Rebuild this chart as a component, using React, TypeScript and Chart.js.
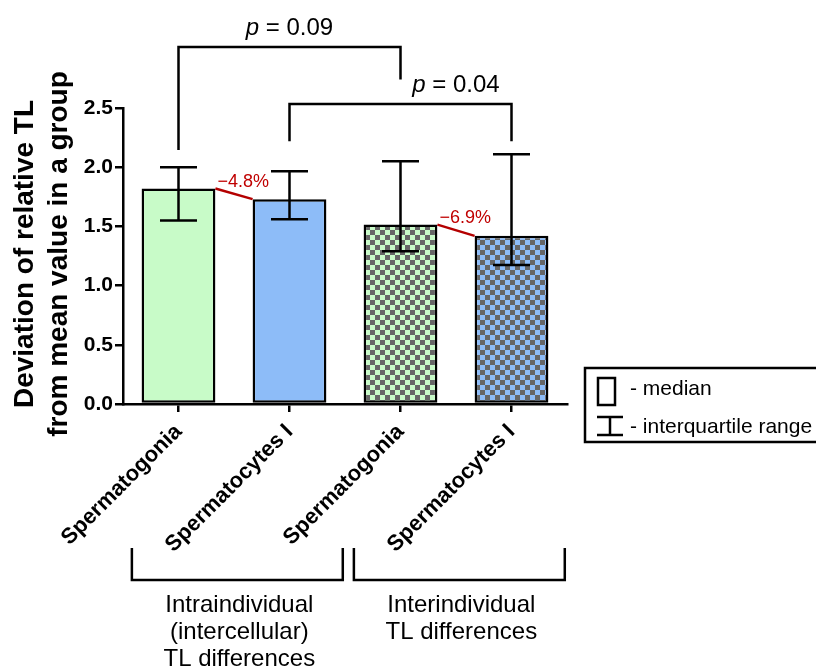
import React, { useEffect, useRef } from "react";
import { Chart, registerables } from "chart.js";

Chart.register(...registerables);

// ---------- data ----------
const categories = ["Spermatogonia", "Spermatocytes I", "Spermatogonia", "Spermatocytes I"];
const medians = [1.82, 1.73, 1.515, 1.42];
const q1 = [1.55, 1.56, 1.29, 1.175];
const q3 = [2.0, 1.965, 2.05, 2.11];
const yTicks = [0, 0.5, 1.0, 1.5, 2.0, 2.5];

const diffFrom = [0, 2];
const diffTo = [1, 3];
const diffLabels = ["\u22124.8%", "\u22126.9%"];

const pFrom = [0, 1];
const pTo = [2, 3];
const pLeftEnd = [2.145, 2.22];
const pRightEnd = [2.74, 2.22];
const pTop = [3.015, 2.534];
const pValues = ["0.09", "0.04"];
const pLabelAt = [1, 2.5];

const groupFrom = [0, 2];
const groupTo = [1, 3];
const groupLabels = [
  ["Intraindividual", "(intercellular)", "TL differences"],
  ["Interindividual", "TL differences"],
];

const yTitle = ["Deviation of relative TL", "from mean value in a group"];
const legendItems = ["- median", "- interquartile range"];

// ---------- styles ----------
const FONT = "'Liberation Sans', Arial, Helvetica, sans-serif";
const GREEN = "#c8fbc8";
const BLUE = "#8dbcf8";
const GRAY = "#666666";
const RED = "#b40000";
const LW = 2.5;

function checker(light: string): CanvasPattern | string {
  const c = document.createElement("canvas");
  const s = 5;
  c.width = s * 2;
  c.height = s * 2;
  const g = c.getContext("2d");
  if (!g) return light;
  g.fillStyle = light;
  g.fillRect(0, 0, s * 2, s * 2);
  g.fillStyle = GRAY;
  g.fillRect(0, 0, s, s);
  g.fillRect(s, s, s, s);
  const p = g.createPattern(c, "repeat");
  return p || light;
}

const overlay = {
  id: "overlay",
  afterDraw(chart: any) {
    const ctx: CanvasRenderingContext2D = chart.ctx;
    const x = chart.scales.x;
    const y = chart.scales.y;
    const meta = chart.getDatasetMeta(0);
    const area = chart.chartArea;
    ctx.save();
    ctx.strokeStyle = "#000";
    ctx.fillStyle = "#000";
    ctx.lineWidth = LW;
    ctx.lineCap = "butt";

    // error bars (interquartile range)
    const cap = 18.5;
    for (let i = 0; i < medians.length; i++) {
      const bx = meta.data[i].x;
      const yTop = y.getPixelForValue(q3[i]);
      const yBot = y.getPixelForValue(q1[i]);
      ctx.beginPath();
      ctx.moveTo(bx, yTop);
      ctx.lineTo(bx, yBot);
      ctx.moveTo(bx - cap, yTop);
      ctx.lineTo(bx + cap, yTop);
      ctx.moveTo(bx - cap, yBot);
      ctx.lineTo(bx + cap, yBot);
      ctx.stroke();
    }

    // red connectors with percent labels
    ctx.font = `18px ${FONT}`;
    ctx.textAlign = "left";
    ctx.textBaseline = "alphabetic";
    for (let k = 0; k < diffFrom.length; k++) {
      const a: any = meta.data[diffFrom[k]];
      const b: any = meta.data[diffTo[k]];
      const ax = a.x + a.width / 2;
      const bx = b.x - b.width / 2;
      ctx.strokeStyle = RED;
      ctx.beginPath();
      ctx.moveTo(ax, a.y);
      ctx.lineTo(bx, b.y);
      ctx.stroke();
      ctx.fillStyle = "#c00000";
      ctx.fillText(diffLabels[k], ax + 2, a.y - 2);
    }
    ctx.strokeStyle = "#000";
    ctx.fillStyle = "#000";

    // significance brackets
    for (let k = 0; k < pFrom.length; k++) {
      const lx = x.getPixelForValue(pFrom[k]);
      const rx = x.getPixelForValue(pTo[k]);
      const ty = y.getPixelForValue(pTop[k]);
      ctx.beginPath();
      ctx.moveTo(lx, y.getPixelForValue(pLeftEnd[k]));
      ctx.lineTo(lx, ty);
      ctx.lineTo(rx, ty);
      ctx.lineTo(rx, y.getPixelForValue(pRightEnd[k]));
      ctx.stroke();
      const cx = x.getPixelForValue(pLabelAt[k]);
      const italic = `italic 24px ${FONT}`;
      const normal = `24px ${FONT}`;
      ctx.font = italic;
      const w1 = ctx.measureText("p").width;
      ctx.font = normal;
      const rest = " = " + pValues[k];
      const w2 = ctx.measureText(rest).width;
      const sx = cx - (w1 + w2) / 2;
      ctx.textAlign = "left";
      ctx.textBaseline = "alphabetic";
      ctx.font = italic;
      ctx.fillText("p", sx, ty - 12);
      ctx.font = normal;
      ctx.fillText(rest, sx + w1, ty - 12);
    }

    // group brackets below axis
    const step = x.getPixelForValue(1) - x.getPixelForValue(0);
    const gTop = 548;
    const gBot = 580;
    ctx.font = `24px ${FONT}`;
    ctx.textAlign = "center";
    ctx.textBaseline = "middle";
    for (let k = 0; k < groupFrom.length; k++) {
      const lx = x.getPixelForValue(groupFrom[k]) - 0.42 * step;
      const rx = x.getPixelForValue(groupTo[k]) + 0.48 * step;
      ctx.beginPath();
      ctx.moveTo(lx, gTop);
      ctx.lineTo(lx, gBot);
      ctx.lineTo(rx, gBot);
      ctx.lineTo(rx, gTop);
      ctx.stroke();
      const cx = (lx + rx) / 2 + 2;
      groupLabels[k].forEach((t, j) => ctx.fillText(t, cx, 605 + j * 27));
    }

    // y axis title
    ctx.font = `bold 28px ${FONT}`;
    ctx.textAlign = "center";
    ctx.textBaseline = "middle";
    const cy = (area.top + area.bottom) / 2 - 2;
    yTitle.forEach((t, j) => {
      ctx.save();
      ctx.translate(25 + j * 34, cy);
      ctx.rotate(-Math.PI / 2);
      ctx.fillText(t, 0, 0);
      ctx.restore();
    });

    // legend box
    const lx0 = 585;
    const ly0 = 368;
    ctx.beginPath();
    ctx.rect(lx0, ly0, 260, 74);
    ctx.stroke();
    ctx.strokeRect(598, 378, 17, 27);
    ctx.beginPath();
    ctx.moveTo(597, 417);
    ctx.lineTo(623, 417);
    ctx.moveTo(610, 417);
    ctx.lineTo(610, 435);
    ctx.moveTo(597, 435);
    ctx.lineTo(623, 435);
    ctx.stroke();
    ctx.font = `21px ${FONT}`;
    ctx.textAlign = "left";
    ctx.textBaseline = "middle";
    ctx.fillText(legendItems[0], 630, 389);
    ctx.fillText(legendItems[1], 630, 427);

    ctx.restore();
  },
};

export default function App() {
  const ref = useRef<HTMLCanvasElement | null>(null);
  useEffect(() => {
    if (!ref.current) return;
    const chart = new Chart(ref.current, {
      type: "bar",
      data: {
        labels: categories,
        datasets: [
          {
            data: medians,
            backgroundColor: [GREEN, BLUE, checker(GREEN), checker(BLUE)] as any,
            borderColor: "#000",
            borderWidth: LW,
            borderSkipped: false,
            barPercentage: 0.665,
            categoryPercentage: 1,
          },
        ],
      },
      options: {
        animation: false,
        responsive: false,
        devicePixelRatio: 1,
        layout: { padding: { top: 108, right: 249, bottom: 0, left: 0 } },
        plugins: { legend: { display: false }, tooltip: { enabled: false }, title: { display: false } },
        scales: {
          x: {
            afterFit: (s: any) => {
              s.height = 264;
            },
            grid: {
              display: true,
              drawOnChartArea: false,
              offset: false,
              tickLength: 8,
              color: "#000",
              lineWidth: LW,
            },
            border: { display: true, color: "#000", width: LW },
            ticks: {
              autoSkip: false,
              minRotation: 45,
              maxRotation: 45,
              padding: 7,
              color: "#000",
              font: { family: FONT, size: 22, weight: "bold" },
            },
          },
          y: {
            min: 0,
            max: 2.5,
            afterFit: (s: any) => {
              s.width = 123;
            },
            afterBuildTicks: (s: any) => {
              s.ticks = yTicks.map((v) => ({ value: v }));
            },
            grid: {
              display: true,
              drawOnChartArea: false,
              tickLength: 8,
              color: "#000",
              lineWidth: LW,
            },
            border: { display: true, color: "#000", width: LW },
            ticks: {
              padding: 2,
              color: "#000",
              font: { family: FONT, size: 21, weight: "bold" },
              callback: (v: any) => Number(v).toFixed(1),
            },
          },
        },
      },
      plugins: [overlay],
    });
    return () => chart.destroy();
  }, []);
  return (
    <div style={{ position: "fixed", left: 0, top: 0, width: 816, height: 668, background: "#fff" }}>
      <canvas ref={ref} width={816} height={668} style={{ display: "block" }} />
    </div>
  );
}
